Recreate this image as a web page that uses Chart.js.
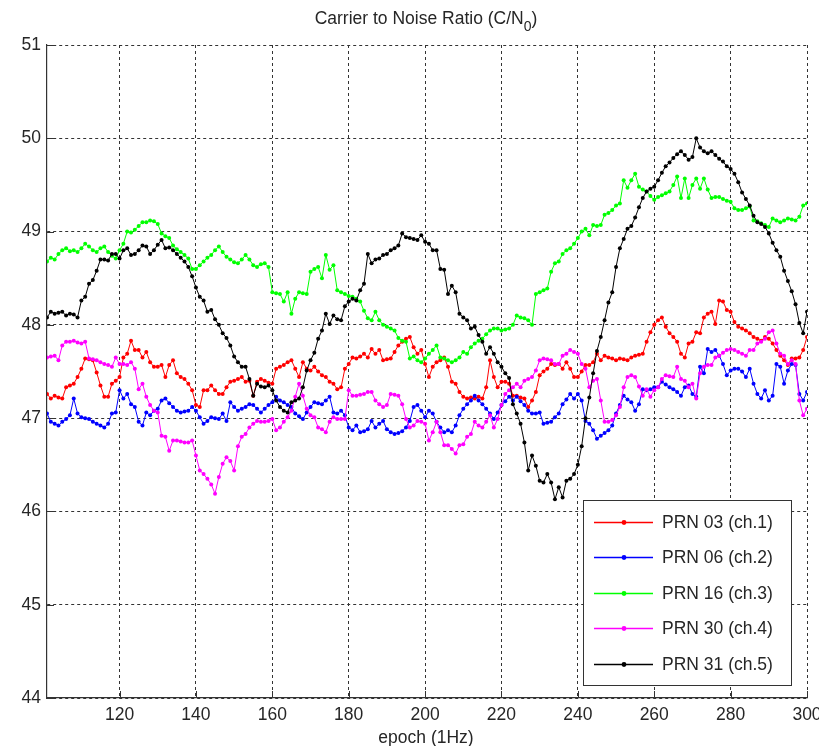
<!DOCTYPE html>
<html>
<head>
<meta charset="utf-8">
<title>Carrier to Noise Ratio</title>
<script src="https://cdn.jsdelivr.net/npm/chart.js@4.4.1/dist/chart.umd.min.js"></script>
<style>
  html, body { margin: 0; padding: 0; background: #ffffff; }
  canvas { display: block; }
</style>
</head>
<body>
<canvas id="cn0" width="819" height="746"></canvas>
<script>
// Tracking epochs (1 Hz), one sample per epoch
const EPOCHS = Array.from({ length: 200 }, (_, i) => 101 + i);

const X_TICKS = [120, 140, 160, 180, 200, 220, 240, 260, 280, 300];
const Y_TICKS = [44, 45, 46, 47, 48, 49, 50, 51];

const SERIES_NAMES = ['PRN 03 (ch.1)', 'PRN 06 (ch.2)', 'PRN 16 (ch.3)', 'PRN 30 (ch.4)', 'PRN 31 (ch.5)'];
const SERIES_COLORS = ['#ff0000', '#0000ff', '#00ff00', '#ff00ff', '#000000'];

// C/N0 per channel [dB-Hz], epochs 101..300
const PRN03 = [
  47.26, 47.21, 47.24, 47.22, 47.21, 47.33, 47.35, 47.37, 47.44, 47.53,
  47.64, 47.63, 47.62, 47.49, 47.35, 47.23, 47.23, 47.37, 47.40, 47.44,
  47.65, 47.69, 47.83, 47.73, 47.73, 47.65, 47.71, 47.60, 47.55, 47.55,
  47.57, 47.44, 47.57, 47.62, 47.48, 47.44, 47.42, 47.37, 47.30, 47.14,
  47.12, 47.30, 47.30, 47.35, 47.30, 47.26, 47.26, 47.33, 47.39, 47.40,
  47.42, 47.44, 47.39, 47.40, 47.24, 47.39, 47.42, 47.40, 47.38, 47.37,
  47.53, 47.55, 47.57, 47.60, 47.62, 47.53, 47.44, 47.60, 47.53, 47.51,
  47.55, 47.50, 47.46, 47.44, 47.39, 47.37, 47.31, 47.33, 47.53, 47.58,
  47.65, 47.64, 47.66, 47.69, 47.65, 47.74, 47.69, 47.73, 47.62, 47.63,
  47.64, 47.71, 47.78, 47.82, 47.85, 47.87, 47.76, 47.69, 47.73, 47.58,
  47.44, 47.55, 47.60, 47.62, 47.65, 47.55, 47.39, 47.37, 47.28, 47.23,
  47.21, 47.22, 47.21, 47.23, 47.21, 47.33, 47.62, 47.44, 47.33, 47.39,
  47.39, 47.37, 47.24, 47.24, 47.22, 47.21, 47.12, 47.19, 47.28, 47.46,
  47.50, 47.53, 47.58, 47.57, 47.58, 47.53, 47.60, 47.53, 47.44, 47.44,
  47.50, 47.57, 47.57, 47.60, 47.69, 47.62, 47.67, 47.65, 47.64, 47.62,
  47.64, 47.63, 47.62, 47.65, 47.67, 47.68, 47.69, 47.82, 47.92, 48.00,
  48.05, 48.08, 47.98, 47.91, 47.87, 47.82, 47.69, 47.65, 47.80, 47.82,
  47.92, 47.91, 48.08, 48.12, 48.14, 48.01, 48.26, 48.25, 48.16, 48.14,
  48.03, 47.98, 47.96, 47.94, 47.91, 47.87, 47.85, 47.83, 47.87, 47.85,
  47.80, 47.73, 47.67, 47.62, 47.57, 47.64, 47.64, 47.65, 47.73, 47.87
];

const PRN06 = [
  47.05, 46.96, 46.94, 46.92, 46.96, 46.99, 47.03, 47.21, 47.05, 47.01,
  47.00, 46.99, 46.96, 46.94, 46.92, 46.90, 46.94, 47.05, 47.06, 47.30,
  47.21, 47.26, 47.15, 47.12, 46.96, 46.92, 47.06, 47.03, 47.08, 47.10,
  47.19, 47.21, 47.16, 47.12, 47.08, 47.06, 47.07, 47.08, 47.12, 47.08,
  47.01, 46.94, 46.97, 47.01, 47.00, 46.99, 47.05, 46.97, 47.17, 47.12,
  47.08, 47.10, 47.12, 47.15, 47.14, 47.10, 47.06, 47.10, 47.14, 47.17,
  47.23, 47.19, 47.17, 47.14, 47.12, 47.05, 47.02, 46.99, 47.06, 47.12,
  47.17, 47.16, 47.15, 47.19, 47.23, 47.06, 47.05, 47.08, 47.03, 46.90,
  46.87, 46.92, 46.85, 46.86, 46.88, 46.97, 46.90, 46.94, 46.97, 46.88,
  46.85, 46.83, 46.84, 46.86, 46.90, 46.97, 47.12, 47.14, 47.08, 47.01,
  47.08, 47.05, 46.96, 46.90, 46.85, 46.87, 46.85, 46.92, 47.03, 47.10,
  47.15, 47.19, 47.24, 47.19, 47.15, 47.10, 47.05, 46.99, 47.06, 47.14,
  47.18, 47.23, 47.19, 47.23, 47.18, 47.14, 47.08, 47.05, 47.05, 47.06,
  46.94, 46.95, 46.96, 47.01, 47.05, 47.15, 47.20, 47.26, 47.21, 47.26,
  47.19, 46.97, 46.94, 46.87, 46.78, 46.81, 46.84, 46.87, 46.92, 47.05,
  47.14, 47.24, 47.20, 47.17, 47.08, 47.15, 47.31, 47.30, 47.31, 47.33,
  47.33, 47.39, 47.36, 47.33, 47.31, 47.28, 47.24, 47.33, 47.35, 47.26,
  47.23, 47.55, 47.48, 47.74, 47.71, 47.73, 47.67, 47.58, 47.46, 47.51,
  47.53, 47.53, 47.50, 47.44, 47.53, 47.37, 47.26, 47.21, 47.30, 47.19,
  47.24, 47.58, 47.55, 47.37, 47.51, 47.58, 47.57, 47.26, 47.19, 47.28
];

const PRN16 = [
  48.68, 48.72, 48.70, 48.76, 48.80, 48.82, 48.79, 48.80, 48.78, 48.82,
  48.87, 48.84, 48.80, 48.78, 48.82, 48.84, 48.78, 48.74, 48.71, 48.80,
  48.87, 49.00, 48.99, 49.02, 49.06, 49.10, 49.10, 49.12, 49.11, 49.08,
  48.98, 48.95, 48.93, 48.85, 48.81, 48.78, 48.75, 48.71, 48.60, 48.60,
  48.64, 48.68, 48.72, 48.75, 48.80, 48.84, 48.78, 48.73, 48.70, 48.67,
  48.66, 48.70, 48.75, 48.70, 48.64, 48.62, 48.65, 48.66, 48.62, 48.35,
  48.34, 48.33, 48.25, 48.35, 48.12, 48.28, 48.35, 48.34, 48.33, 48.57,
  48.60, 48.62, 48.50, 48.75, 48.59, 48.64, 48.37, 48.35, 48.33, 48.31,
  48.30, 48.28, 48.25, 48.15, 48.07, 48.05, 48.14, 48.05, 48.00, 47.98,
  47.96, 47.94, 47.86, 47.83, 47.82, 47.64, 47.66, 47.62, 47.60, 47.64,
  47.69, 47.73, 47.78, 47.65, 47.64, 47.62, 47.60, 47.62, 47.65, 47.71,
  47.69, 47.76, 47.80, 47.83, 47.85, 47.90, 47.94, 47.96, 47.96, 47.94,
  47.95, 47.96, 48.00, 48.10, 48.08, 48.07, 48.05, 48.00, 48.33, 48.35,
  48.37, 48.39, 48.57, 48.66, 48.68, 48.76, 48.80, 48.82, 48.87, 48.93,
  49.00, 49.03, 48.96, 49.07, 49.06, 49.07, 49.18, 49.20, 49.23, 49.28,
  49.30, 49.55, 49.47, 49.55, 49.62, 49.48, 49.45, 49.43, 49.38, 49.34,
  49.37, 49.39, 49.41, 49.43, 49.50, 49.59, 49.36, 49.57, 49.36, 49.50,
  49.57, 49.46, 49.57, 49.45, 49.36, 49.37, 49.37, 49.35, 49.33, 49.32,
  49.25, 49.23, 49.23, 49.25, 49.27, 49.12, 49.11, 49.09, 49.07, 49.05,
  49.14, 49.12, 49.10, 49.12, 49.14, 49.13, 49.12, 49.16, 49.28, 49.30
];

const PRN30 = [
  47.65, 47.66, 47.67, 47.62, 47.78, 47.82, 47.82, 47.83, 47.81, 47.80,
  47.82, 47.64, 47.63, 47.62, 47.60, 47.58, 47.57, 47.55, 47.65, 47.58,
  47.58, 47.57, 47.60, 47.53, 47.31, 47.37, 47.23, 47.14, 47.08, 47.06,
  46.81, 46.80, 46.65, 46.76, 46.76, 46.75, 46.74, 46.74, 46.76, 46.60,
  46.44, 46.40, 46.35, 46.29, 46.19, 46.37, 46.51, 46.58, 46.54, 46.44,
  46.70, 46.80, 46.83, 46.90, 46.94, 46.97, 46.96, 46.96, 46.97, 46.99,
  46.87, 46.90, 46.96, 47.01, 47.08, 47.23, 47.37, 47.24, 47.10, 47.03,
  47.01, 46.90, 46.88, 46.85, 46.96, 47.01, 46.99, 46.99, 46.99, 47.30,
  47.24, 47.24, 47.25, 47.26, 47.28, 47.28, 47.19, 47.15, 47.12, 47.14,
  47.26, 47.25, 47.24, 47.15, 46.99, 46.90, 46.92, 46.97, 46.96, 46.94,
  46.76, 46.85, 46.96, 46.85, 46.71, 46.71, 46.67, 46.62, 46.71, 46.72,
  46.80, 46.83, 46.96, 46.92, 46.90, 46.96, 47.03, 46.90, 46.99, 47.14,
  47.26, 47.30, 47.33, 47.37, 47.33, 47.40, 47.42, 47.44, 47.51, 47.62,
  47.64, 47.63, 47.62, 47.58, 47.58, 47.67, 47.69, 47.73, 47.71, 47.69,
  47.58, 47.53, 47.33, 47.40, 47.42, 47.19, 46.96, 46.96, 46.98, 47.03,
  47.12, 47.33, 47.44, 47.46, 47.44, 47.34, 47.24, 47.31, 47.23, 47.30,
  47.33, 47.42, 47.46, 47.45, 47.44, 47.55, 47.42, 47.40, 47.33, 47.37,
  47.21, 47.48, 47.55, 47.57, 47.57, 47.65, 47.67, 47.70, 47.73, 47.74,
  47.73, 47.71, 47.69, 47.67, 47.73, 47.73, 47.80, 47.82, 47.85, 47.92,
  47.94, 47.80, 47.69, 47.67, 47.58, 47.62, 47.58, 47.19, 47.03, 47.10
];

const PRN31 = [
  48.08, 48.14, 48.12, 48.13, 48.14, 48.10, 48.12, 48.11, 48.08, 48.26,
  48.30, 48.44, 48.48, 48.58, 48.70, 48.70, 48.69, 48.76, 48.76, 48.71,
  48.80, 48.82, 48.75, 48.76, 48.80, 48.85, 48.84, 48.76, 48.80, 48.86,
  48.91, 48.82, 48.83, 48.80, 48.76, 48.72, 48.68, 48.62, 48.52, 48.40,
  48.30, 48.26, 48.14, 48.16, 48.06, 48.00, 47.91, 47.86, 47.78, 47.66,
  47.60, 47.55, 47.55, 47.42, 47.24, 47.37, 47.34, 47.33, 47.35, 47.30,
  47.19, 47.12, 47.08, 47.06, 47.17, 47.19, 47.21, 47.33, 47.51, 47.62,
  47.70, 47.85, 47.94, 48.12, 48.01, 48.10, 48.06, 48.05, 48.20, 48.25,
  48.28, 48.26, 48.37, 48.44, 48.76, 48.66, 48.70, 48.71, 48.75, 48.76,
  48.80, 48.82, 48.85, 48.98, 48.94, 48.93, 48.92, 48.91, 48.96, 48.89,
  48.87, 48.80, 48.80, 48.60, 48.59, 48.33, 48.42, 48.35, 48.12, 48.08,
  48.05, 47.96, 47.98, 47.89, 47.82, 47.69, 47.76, 47.69, 47.60, 47.55,
  47.48, 47.43, 47.15, 47.05, 46.94, 46.74, 46.44, 46.60, 46.49, 46.33,
  46.31, 46.40, 46.31, 46.13, 46.26, 46.15, 46.33, 46.35, 46.40, 46.50,
  46.70, 47.00, 47.22, 47.48, 47.72, 47.87, 48.05, 48.24, 48.35, 48.62,
  48.82, 48.92, 49.03, 49.06, 49.15, 49.26, 49.36, 49.43, 49.46, 49.48,
  49.55, 49.63, 49.70, 49.74, 49.79, 49.83, 49.86, 49.82, 49.77, 49.80,
  50.00, 49.90, 49.86, 49.84, 49.86, 49.82, 49.78, 49.75, 49.70, 49.67,
  49.62, 49.53, 49.42, 49.35, 49.28, 49.17, 49.10, 49.08, 49.05, 48.98,
  48.88, 48.80, 48.73, 48.58, 48.47, 48.36, 48.22, 48.02, 47.91, 48.14
];

const SERIES = [PRN03, PRN06, PRN16, PRN30, PRN31];

const FONT_FAMILY = '"Liberation Sans", Arial, Helvetica, sans-serif';
const TEXT_COLOR = '#262626';
const AXIS_COLOR = '#333333';

// Inward tick marks along the left and bottom axes
const innerTicks = {
  id: 'innerTicks',
  beforeDatasetsDraw(chart) {
    const { ctx, chartArea: a, scales: { x, y } } = chart;
    const len = 7;
    ctx.save();
    ctx.strokeStyle = AXIS_COLOR;
    ctx.lineWidth = 1;
    ctx.setLineDash([]);
    ctx.beginPath();
    x.ticks.forEach(t => {
      const px = Math.round(x.getPixelForValue(t.value)) + 0.5;
      ctx.moveTo(px, a.bottom);
      ctx.lineTo(px, a.bottom - len);
    });
    y.ticks.forEach(t => {
      const py = Math.round(y.getPixelForValue(t.value)) + 0.5;
      ctx.moveTo(a.left, py);
      ctx.lineTo(a.left + len, py);
    });
    ctx.stroke();
    ctx.restore();
  }
};

// Title with subscript, x-axis caption and the boxed legend
const annotations = {
  id: 'annotations',
  afterDraw(chart) {
    const { ctx, chartArea: a } = chart;
    ctx.save();
    ctx.fillStyle = TEXT_COLOR;

    // title: Carrier to Noise Ratio (C/N0) with subscript 0
    const mainFont = '17.5px ' + FONT_FAMILY;
    const subFont = '14px ' + FONT_FAMILY;
    const partA = 'Carrier to Noise Ratio (C/N';
    const partB = '0';
    const partC = ')';
    ctx.font = mainFont;
    const wA = ctx.measureText(partA).width;
    const wC = ctx.measureText(partC).width;
    ctx.font = subFont;
    const wB = ctx.measureText(partB).width;
    const total = wA + wB + wC;
    const cx = (a.left + a.right) / 2 - 1;
    let tx = cx - total / 2;
    const base = 23.5;
    ctx.textAlign = 'left';
    ctx.textBaseline = 'alphabetic';
    ctx.font = mainFont;
    ctx.fillText(partA, tx, base);
    tx += wA;
    ctx.font = subFont;
    ctx.fillText(partB, tx, base + 7.5);
    tx += wB;
    ctx.font = mainFont;
    ctx.fillText(partC, tx, base);

    // x-axis caption
    ctx.textAlign = 'center';
    ctx.fillText('epoch (1Hz)', cx, 742.5);

    // legend box
    const box = { left: 583.5, top: 500.5, right: 791.5, bottom: 685.5 };
    ctx.fillStyle = '#ffffff';
    ctx.fillRect(box.left, box.top, box.right - box.left, box.bottom - box.top);
    ctx.strokeStyle = AXIS_COLOR;
    ctx.lineWidth = 1;
    ctx.setLineDash([]);
    ctx.strokeRect(box.left, box.top, box.right - box.left, box.bottom - box.top);

    const rowY0 = 521.5;
    const rowStep = 35.6;
    ctx.font = '17.5px ' + FONT_FAMILY;
    ctx.textAlign = 'left';
    ctx.textBaseline = 'middle';
    SERIES_NAMES.forEach((name, i) => {
      const ry = Math.round(rowY0 + i * rowStep) + 0.5;
      ctx.strokeStyle = SERIES_COLORS[i];
      ctx.lineWidth = 1.3;
      ctx.beginPath();
      ctx.moveTo(594, ry);
      ctx.lineTo(653, ry);
      ctx.stroke();
      ctx.fillStyle = SERIES_COLORS[i];
      ctx.beginPath();
      ctx.arc(624, ry, 2.4, 0, Math.PI * 2);
      ctx.fill();
      ctx.fillStyle = TEXT_COLOR;
      ctx.fillText(name, 662, ry + 1);
    });
    ctx.restore();
  }
};

const datasets = SERIES.map((values, i) => ({
  label: SERIES_NAMES[i],
  data: EPOCHS.map((e, k) => ({ x: e, y: values[k] })),
  borderColor: SERIES_COLORS[i],
  backgroundColor: SERIES_COLORS[i],
  borderWidth: 1,
  pointRadius: 2,
  pointBorderWidth: 0,
  pointHoverRadius: 0,
  tension: 0,
  fill: false,
  order: SERIES.length - i
}));

new Chart(document.getElementById('cn0'), {
  type: 'line',
  data: { datasets },
  plugins: [innerTicks, annotations],
  options: {
    responsive: false,
    animation: false,
    devicePixelRatio: 1,
    layout: { padding: { left: 0, right: 12, top: 45, bottom: 0 } },
    plugins: {
      legend: { display: false },
      title: { display: false },
      tooltip: { enabled: false }
    },
    scales: {
      x: {
        type: 'linear',
        position: 'bottom',
        min: 101,
        max: 300,
        afterBuildTicks: s => { s.ticks = X_TICKS.map(v => ({ value: v })); },
        afterFit: s => { s.height = 48; s.paddingLeft = 0; s.paddingRight = 0; },
        ticks: {
          autoSkip: false,
          maxRotation: 0,
          padding: 7,
          color: TEXT_COLOR,
          font: { family: FONT_FAMILY, size: 17.5 }
        },
        grid: { color: AXIS_COLOR, lineWidth: 1, drawTicks: false },
        border: { display: true, color: AXIS_COLOR, width: 1.2, dash: [3, 3] }
      },
      y: {
        type: 'linear',
        position: 'left',
        min: 44,
        max: 51,
        afterBuildTicks: s => { s.ticks = Y_TICKS.map(v => ({ value: v })); },
        afterFit: s => { s.width = 47; s.paddingTop = 0; s.paddingBottom = 0; },
        ticks: {
          padding: 6,
          color: TEXT_COLOR,
          font: { family: FONT_FAMILY, size: 17.5 }
        },
        grid: { color: AXIS_COLOR, lineWidth: 1, drawTicks: false },
        border: { display: true, color: AXIS_COLOR, width: 1.2, dash: [3, 3] }
      }
    }
  }
});
</script>
</body>
</html>
